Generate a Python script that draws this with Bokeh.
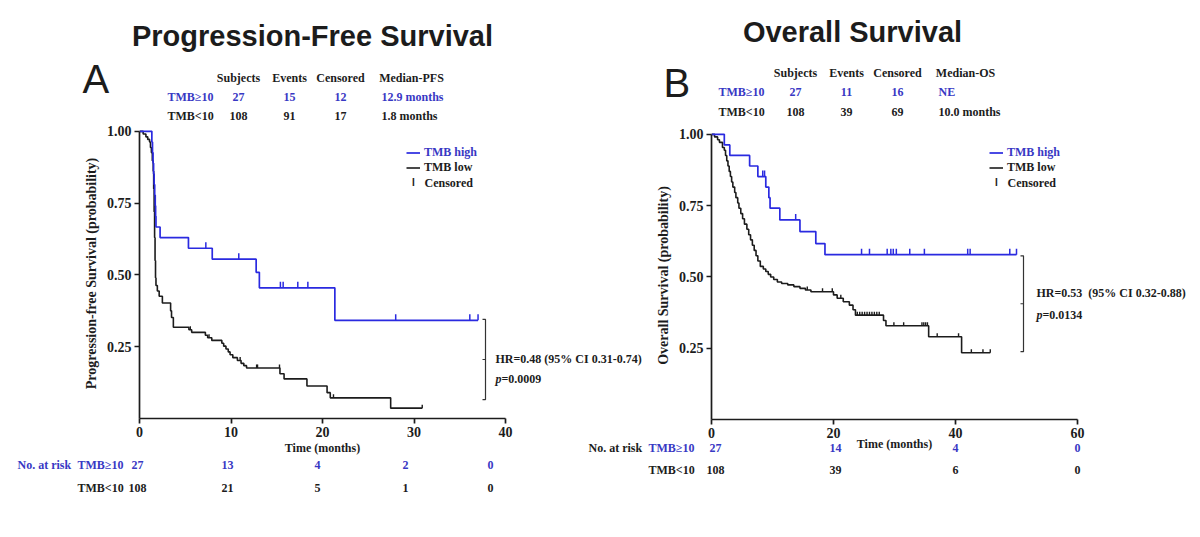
from math import pi

import numpy as np
from bokeh.core.properties import value
from bokeh.embed import file_html
from bokeh.layouts import column, row
from bokeh.models import (ColumnDataSource, FixedTicker, Legend, LegendItem,
                          NumeralTickFormatter, Range1d)
from bokeh.plotting import figure
from bokeh.resources import INLINE

# ---------------- Kaplan-Meier estimates ----------------
# Progression-free survival, TMB >= 10 (step times in months, survival after each step)
pfs_high_time = [0, 1.35, 1.42, 1.48, 1.54, 1.6, 1.66, 1.72, 1.76, 1.8, 2.25, 5.35, 7.95,
                 12.75, 13.1, 21.35, 37.0]
pfs_high_surv = [1.0, 0.963, 0.926, 0.889, 0.852, 0.815, 0.778, 0.741, 0.704, 0.667, 0.630,
                 0.593, 0.555, 0.509, 0.455, 0.342, 0.342]
pfs_high_cens = [7.25, 10.85, 15.4, 15.7, 17.3, 18.4, 28.0, 36.1, 37.0]

# Progression-free survival, TMB < 10
pfs_low_time = [0, 0.4, 0.7, 0.9, 1.1, 1.2, 1.3, 1.4, 1.5, 1.55, 1.6, 1.65, 1.7, 1.75, 1.8,
                1.95, 2.15, 2.5, 3.4, 3.5, 3.7, 5.4, 5.7, 7.2, 7.45, 7.9, 9.0, 9.2, 9.45, 9.7,
                9.9, 10.2, 10.7, 11.1, 11.4, 11.7, 15.35, 15.8, 18.3, 20.5, 20.85, 27.45, 30.9]
pfs_low_surv = [1.0, 0.991, 0.981, 0.972, 0.963, 0.944, 0.926, 0.898, 0.861, 0.80, 0.72, 0.63,
                0.55, 0.49, 0.463, 0.444, 0.426, 0.402, 0.375, 0.352, 0.318, 0.309, 0.300,
                0.290, 0.281, 0.272, 0.262, 0.252, 0.242, 0.232, 0.222, 0.212, 0.202, 0.192,
                0.184, 0.176, 0.156, 0.138, 0.113, 0.090, 0.072, 0.036, 0.036]
pfs_low_cens = [5.55, 7.6, 11.0, 12.8, 12.9, 15.3, 21.2, 30.9]

# Overall survival, TMB >= 10
os_high_time = [0, 2.1, 3.0, 6.25, 7.6, 8.9, 9.4, 9.6, 11.2, 14.5, 17.1, 18.6, 50.0]
os_high_surv = [1.0, 0.963, 0.926, 0.889, 0.852, 0.815, 0.778, 0.741, 0.700, 0.659, 0.617,
                0.578, 0.578]
os_high_cens = [8.4, 8.7, 13.8, 24.6, 25.9, 28.8, 29.4, 29.8, 30.3, 32.5, 34.9, 42.0, 42.4,
                48.9, 50.0]

# Overall survival, TMB < 10
os_low_time = [0, 0.5, 1.0, 1.3, 1.8, 2.1, 2.3, 2.5, 2.7, 2.9, 3.1, 3.3, 3.5, 3.8, 4.0, 4.3,
               4.5, 4.8, 5.1, 5.4, 5.8, 6.1, 6.4, 6.7, 7.0, 7.3, 7.6, 8.0, 8.5, 8.9, 9.3, 9.7,
               10.2, 10.8, 11.5, 12.5, 13.5, 14.5, 15.4, 16.3, 20.0, 20.6, 21.6, 22.6, 23.2,
               23.6, 28.2, 28.6, 35.6, 41.0, 45.7]
os_low_surv = [1.0, 0.991, 0.981, 0.972, 0.954, 0.944, 0.926, 0.907, 0.889, 0.870, 0.852,
               0.833, 0.815, 0.796, 0.778, 0.759, 0.741, 0.722, 0.704, 0.685, 0.667, 0.648,
               0.630, 0.611, 0.593, 0.574, 0.556, 0.537, 0.528, 0.519, 0.509, 0.500, 0.491,
               0.482, 0.477, 0.472, 0.466, 0.460, 0.454, 0.448, 0.437, 0.425, 0.413, 0.401,
               0.385, 0.366, 0.347, 0.329, 0.290, 0.234, 0.234]
os_low_cens = [15.7, 18.2, 19.8, 21.2, 23.9, 24.3, 24.7, 25.1, 25.5, 25.9, 26.3, 26.7, 27.1,
               27.5, 29.9, 31.5, 34.5, 34.8, 35.1, 35.4, 37.0, 40.5, 42.6, 44.5, 45.7]

# ---------------- summary tables ----------------
summary_cols_pfs = ["Subjects", "Events", "Censored", "Median-PFS"]
summary_high_pfs = ["27", "15", "12", "12.9 months"]
summary_low_pfs = ["108", "91", "17", "1.8 months"]
summary_cols_os = ["Subjects", "Events", "Censored", "Median-OS"]
summary_high_os = ["27", "11", "16", "NE"]
summary_low_os = ["108", "39", "69", "10.0 months"]

pfs_ticks = [0, 10, 20, 30, 40]
pfs_risk_high = [27, 13, 4, 2, 0]
pfs_risk_low = [108, 21, 5, 1, 0]
os_ticks = [0, 20, 40, 60]
os_risk_high = [27, 14, 4, 0]
os_risk_low = [108, 39, 6, 0]

pfs_hr = "HR=0.48 (95% CI 0.31-0.74)"
pfs_p = "=0.0009"
os_hr = "HR=0.53\u00a0 (95% CI 0.32-0.88)"
os_p = "=0.0134"

# ---------------- style ----------------
SERIF = "Liberation Serif"
SANS = "Liberation Sans"
BLUE_LINE = "#2a2ae0"
BLUE_TEXT = "#3838c4"
INK = "#1c1c1c"
W, H = 1200, 537


def surv_at(times, surv, when):
    idx = np.searchsorted(np.asarray(times), np.asarray(when), side="right") - 1
    return list(np.asarray(surv)[idx])


# ---------------- page layer: headings, tables and annotations ----------------
page = figure(width=W, height=H, x_range=Range1d(0, W), y_range=Range1d(H, 0),
              output_backend="svg", toolbar_location=None, title=None,
              x_axis_type=None, y_axis_type=None, min_border=0)
page.outline_line_color = None
page.grid.visible = False


def write(items, color=INK, size="12px", font=SERIF, style="bold", align="left"):
    xs, ys, ts = zip(*items)
    page.text(x=list(xs), y=list(ys), text=list(ts), text_color=color,
              text_font=value(font), text_font_style=style, text_font_size=size,
              text_align=align, text_baseline="middle")


def panel_text(g):
    write([(*g["title_px"], g["title"])], size="29px", font=SANS, align="center")
    write([(*g["letter_px"], g["letter"])], size="40px", font=SANS, style="normal")

    cols, hrow, lrow = g["summary"]
    tx, ty = g["table_cols_px"], g["table_rows_px"]
    write([(tx[i], ty[0], c) for i, c in enumerate(cols)], align="center")
    write([(tx[i], ty[1], hrow[i]) for i in range(3)], color=BLUE_TEXT, align="center")
    write([(tx[i], ty[2], lrow[i]) for i in range(3)], align="center")
    write([(g["table_label_px"], ty[1], "TMB\u226510"),
           (g["median_left_px"], ty[1], hrow[3])], color=BLUE_TEXT)
    write([(g["table_label_px"], ty[2], "TMB<10"),
           (g["median_left_px"], ty[2], lrow[3])])

    rx, ry = g["risk_cols_px"], g["risk_rows_px"]
    write([(g["risk_title_px"], ry[0], "No. at risk")], color=g["risk_title_color"])
    write([(g["risk_label_px"], ry[0], "TMB\u226510")], color=BLUE_TEXT)
    write([(g["risk_label_px"], ry[1], "TMB<10")])
    write([(x, ry[0], str(n)) for x, n in zip(rx, g["risk"][0])], color=BLUE_TEXT,
          align="center")
    write([(x, ry[1], str(n)) for x, n in zip(rx, g["risk"][1])], align="center")

    # censoring key of the legend
    kx, ky = g["legend_px"]
    write([(kx + 7, ky + 30, "I")], size="10px", font=SANS, align="center")
    write([(kx + 18, ky + 30, "Censored")])

    hx, hy, py = g["hr_px"]
    write([(hx, hy, g["hr"]), (hx + 6, py, g["p"])])
    write([(hx, py, "p")], style="bold italic")


# ---------------- survival panels ----------------
def make_panel(g):
    off = g["offset"]
    pw = g["width"]
    ytop = 1.01
    unit = g["y0_px"] - g["y1_px"]
    p = figure(width=pw, height=H, x_range=Range1d(0, g["xmax"]), y_range=Range1d(0, ytop),
               output_backend="svg", toolbar_location=None, title=None,
               min_border_left=round(g["x0_px"] - off),
               min_border_right=pw - round(g["xmax_px"] - off),
               min_border_top=round(g["y0_px"] - unit * ytop),
               min_border_bottom=H - round(g["y0_px"]))
    p.outline_line_color = None
    p.xgrid.visible = False
    p.ygrid.visible = False
    p.background_fill_color = None
    p.border_fill_color = None

    def fx(px):
        return (px - g["x0_px"]) / (g["xmax_px"] - g["x0_px"]) * g["xmax"]

    p.xaxis.ticker = FixedTicker(ticks=g["ticks"])
    p.xaxis.bounds = (0, g["xmax"])
    p.yaxis.ticker = FixedTicker(ticks=[0.25, 0.5, 0.75, 1.0])
    p.yaxis.formatter = NumeralTickFormatter(format="0.00")
    p.yaxis.bounds = (0, 1)
    for ax in p.axis:
        ax.axis_line_color = INK
        ax.axis_line_width = 1.7
        ax.major_tick_line_color = INK
        ax.major_tick_line_width = 1.7
        ax.major_tick_out = 5
        ax.major_tick_in = 0
        ax.minor_tick_line_color = None
        ax.major_label_text_font = SERIF
        ax.major_label_text_font_style = "bold"
        ax.major_label_text_font_size = "14px"
        ax.major_label_text_color = INK
        ax.major_label_standoff = 3
        ax.axis_label_text_font = SERIF
        ax.axis_label_text_font_style = "bold"
        ax.axis_label_text_color = INK
    p.xaxis.axis_label = "Time (months)"
    p.xaxis.axis_label_text_font_size = "12px"
    p.xaxis.axis_label_standoff = g["xlab_standoff"]
    p.yaxis.axis_label = g["ylabel"]
    p.yaxis.axis_label_text_font_size = "14px"
    p.yaxis.axis_label_standoff = 5

    # survival curves
    hi = ColumnDataSource(dict(t=g["high"][0], s=g["high"][1]))
    lo = ColumnDataSource(dict(t=g["low"][0], s=g["low"][1]))
    r_lo = p.step(x="t", y="s", source=lo, mode="after", line_color=INK, line_width=1.6)
    r_hi = p.step(x="t", y="s", source=hi, mode="after", line_color=BLUE_LINE, line_width=1.7)

    # censoring marks, drawn upward from the curve
    c_hi, c_lo = g["high"][2], g["low"][2]
    p.ray(x=c_lo, y=surv_at(g["low"][0], g["low"][1], c_lo), length=3.5, angle=pi / 2,
          length_units="screen", line_color=INK, line_width=1.4)
    p.ray(x=c_hi, y=surv_at(g["high"][0], g["high"][1], c_hi), length=6, angle=pi / 2,
          length_units="screen", line_color=BLUE_LINE, line_width=1.5)

    # legend
    lx = g["legend_px"][0] - g["x0_px"]
    common = dict(border_line_alpha=0, background_fill_alpha=0, padding=0, margin=0,
                  glyph_width=14, glyph_height=15, label_standoff=4, spacing=1,
                  label_height=12, label_text_font=SERIF, label_text_font_style="bold",
                  label_text_font_size="12px")
    p.add_layout(Legend(items=[LegendItem(label="TMB high", renderers=[r_hi])],
                        location=(lx, g["y0_px"] - g["legend_px"][1] - 7.5),
                        label_text_color=BLUE_TEXT, **common))
    p.add_layout(Legend(items=[LegendItem(label="TMB low", renderers=[r_lo])],
                        location=(lx, g["y0_px"] - g["legend_px"][1] - 7.5 - 15),
                        label_text_color=INK, **common))

    # hazard-ratio bracket between the two curves
    bx = fx(g["bracket_px"])
    serif = bx - fx(g["bracket_px"] - 3)
    top, bot = g["bracket_span"]
    mid = (top + bot) / 2
    p.multi_line(xs=[[bx - serif, bx, bx, bx - serif], [bx, bx - serif]],
                 ys=[[top, top, bot, bot], [mid, mid]], line_color="#333333", line_width=1.2)
    return p


geom_a = dict(offset=0, width=650,
              x0_px=139, xmax_px=505, y1_px=131, y0_px=418, xmax=40,
              ticks=pfs_ticks, ylabel="Progression-free Survival (probability)",
              xlab_standoff=1,
              high=(pfs_high_time, pfs_high_surv, pfs_high_cens),
              low=(pfs_low_time, pfs_low_surv, pfs_low_cens),
              legend_px=(406, 152), title="Progression-Free Survival", title_px=(312, 35),
              letter="A", letter_px=(82, 78),
              summary=(summary_cols_pfs, summary_high_pfs, summary_low_pfs),
              table_cols_px=[238, 289, 340, 411], table_rows_px=[77, 96, 115],
              table_label_px=167, median_left_px=381,
              risk_cols_px=[137, 227, 317, 405, 490], risk_rows_px=[464, 487],
              risk_title_px=17, risk_label_px=77, risk_title_color=BLUE_TEXT,
              risk=(pfs_risk_high, pfs_risk_low),
              bracket_px=485, bracket_span=(0.345, 0.066), hr_px=(495, 358, 378),
              hr=pfs_hr, p=pfs_p)

geom_b = dict(offset=588, width=612,
              x0_px=711, xmax_px=1077, y1_px=134, y0_px=419, xmax=60,
              ticks=os_ticks, ylabel="Overall Survival (probability)", xlab_standoff=-4,
              high=(os_high_time, os_high_surv, os_high_cens),
              low=(os_low_time, os_low_surv, os_low_cens),
              legend_px=(989, 152), title="Overall Survival", title_px=(852, 31),
              letter="B", letter_px=(663, 82),
              summary=(summary_cols_os, summary_high_os, summary_low_os),
              table_cols_px=[795, 846, 897, 965], table_rows_px=[72, 91, 111],
              table_label_px=718, median_left_px=938,
              risk_cols_px=[715, 835, 955, 1077], risk_rows_px=[447, 469],
              risk_title_px=588, risk_label_px=648, risk_title_color=INK,
              risk=(os_risk_high, os_risk_low),
              bracket_px=1023, bracket_span=(0.574, 0.238), hr_px=(1036, 292, 314),
              hr=os_hr, p=os_p)

panel_text(geom_a)
panel_text(geom_b)
p_a = make_panel(geom_a)
p_b = make_panel(geom_b)

# the two survival panels are stacked over the page layer, each in its own column
layout = row(column(page),
             column(p_a, margin=(0, 0, 0, -W)),
             column(p_b, margin=(0, 0, 0, -(geom_a["width"] - geom_b["offset"]))))

open("out.html", "w").write(file_html(layout, INLINE))
